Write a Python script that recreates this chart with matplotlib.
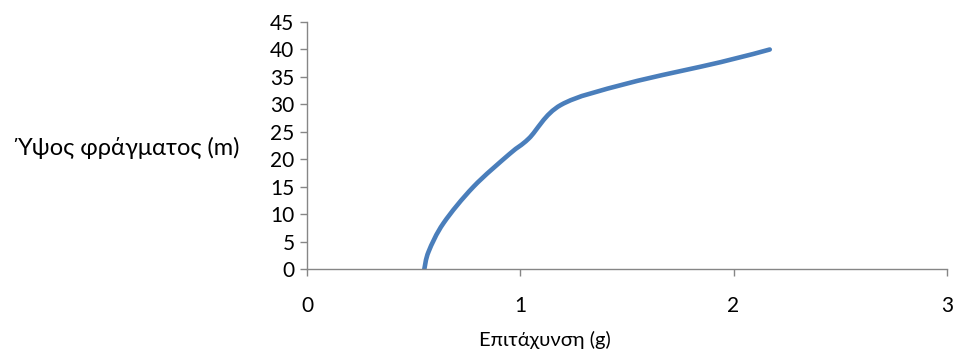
import matplotlib

matplotlib.use("Agg")
import matplotlib.pyplot as plt
import numpy as np
from matplotlib.path import Path
from matplotlib.patches import PathPatch

plt.rcParams["font.family"] = ["Lato", "Noto Sans", "DejaVu Sans"]

# values
accel_g = [0.55, 0.57, 0.64, 0.78, 0.95, 1.04, 1.19, 1.50, 1.94, 2.17]
height_m = [0, 3.2, 8.4, 15.0, 21.0, 23.8, 29.9, 33.8, 37.7, 40]
x_ticks = [0, 1, 2, 3]
y_ticks = list(range(0, 50, 5))


def smooth_path(xs, ys, tension=1 / 6):
    """Excel-like smoothed line as cubic Bezier segments."""
    pts = np.column_stack([xs, ys]).astype(float)
    verts = [pts[0]]
    codes = [Path.MOVETO]
    n = len(pts)
    for i in range(n - 1):
        p0 = pts[max(i - 1, 0)]
        p1 = pts[i]
        p2 = pts[i + 1]
        p3 = pts[min(i + 2, n - 1)]
        c1 = p1 + (p2 - p0) * tension
        c2 = p2 - (p3 - p1) * tension
        verts += [c1, c2, p2]
        codes += [Path.CURVE4] * 3
    return Path(verts, codes)


fig = plt.figure(figsize=(9.6, 3.58), dpi=100)
ax = fig.add_axes([0.3198, 0.2477, 0.6664, 0.6908])

# smooth in pixel-like units so the curve bends the way Excel's does
sx, sy = 213.3, 5.496
path = smooth_path(np.array(accel_g) * sx, np.array(height_m) * sy)
path = Path(path.vertices / [sx, sy], path.codes)
ax.add_patch(PathPatch(path, facecolor="none", edgecolor="#4A7EBB",
                       linewidth=3.3, capstyle="round", joinstyle="round"))

ax.set_xlim(0, 3)
ax.set_ylim(0, 45)
ax.set_xticks(x_ticks)
ax.set_yticks(y_ticks)

for side in ("top", "right"):
    ax.spines[side].set_visible(False)
for side in ("left", "bottom"):
    ax.spines[side].set_color("#868686")
    ax.spines[side].set_linewidth(1.0)

ax.tick_params(axis="both", colors="#868686", labelcolor="black",
               labelsize=15, length=5, width=1.0)
ax.tick_params(axis="x", pad=14)
ax.tick_params(axis="y", pad=4)

ax.set_xlabel("Επιτάχυνση (g)", fontsize=14.5, va="center")
ax.xaxis.set_label_coords(0.372, -0.286)
ax.set_ylabel("Ύψος φράγματος (m)", fontsize=17, rotation=0,
              ha="right", va="center")
ax.yaxis.set_label_coords(-0.105, 0.49)

fig.savefig("out.png", dpi=100)
plt.close(fig)
